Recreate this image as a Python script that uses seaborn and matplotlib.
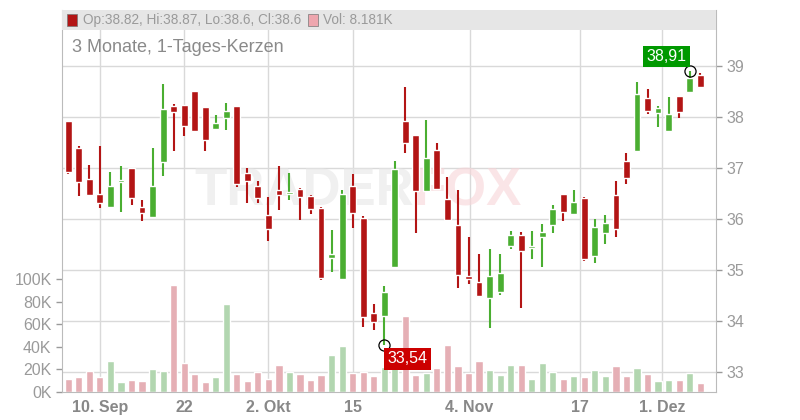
import matplotlib
matplotlib.use("Agg")
import matplotlib.pyplot as plt
import numpy as np
import pandas as pd
import seaborn as sns
from matplotlib.patches import Rectangle

# daily candles, 61 sessions
opens = [37.92, 37.39, 36.78, 36.49, 36.24, 36.73, 37.00, 36.24, 36.05, 37.12,
         38.22, 38.24, 38.51, 38.20, 37.77, 37.99, 38.22, 36.90, 36.65, 36.08,
         36.57, 36.50, 36.59, 36.45, 36.22, 35.24, 34.83, 36.65, 36.02, 34.16,
         34.10, 35.06, 37.93, 37.65, 36.55, 37.35, 36.39, 35.88, 34.89, 34.77,
         34.46, 34.57, 35.48, 35.69, 35.44, 35.65, 35.89, 36.49, 36.10, 36.41,
         35.28, 35.73, 36.47, 37.14, 37.34, 38.37, 38.08, 37.73, 38.41, 38.49,
         38.82]
highs = [37.92, 37.43, 37.06, 37.43, 36.92, 37.04, 37.00, 36.37, 37.39, 38.65,
         38.25, 38.24, 38.51, 38.20, 38.04, 38.27, 38.22, 37.00, 36.75, 36.44,
         37.04, 36.90, 36.61, 36.47, 36.24, 35.78, 36.57, 36.88, 36.06, 34.34,
         34.69, 37.14, 38.59, 37.65, 37.94, 37.50, 36.82, 36.57, 35.65, 35.32,
         35.42, 35.32, 35.77, 35.75, 35.76, 35.91, 36.27, 36.49, 36.57, 36.44,
         36.00, 36.08, 36.75, 37.29, 38.69, 38.55, 38.22, 38.39, 38.41, 38.91,
         38.87]
lows = [36.88, 36.45, 36.47, 36.22, 36.24, 36.14, 36.28, 35.97, 36.05, 36.85,
        37.34, 37.63, 37.73, 37.34, 37.77, 37.75, 36.63, 36.32, 36.32, 35.57,
        36.18, 36.38, 35.99, 36.10, 34.81, 34.97, 34.83, 35.83, 33.89, 33.83,
        33.54, 35.06, 37.30, 35.73, 36.55, 36.57, 35.99, 34.65, 34.73, 34.48,
        33.87, 34.52, 35.42, 34.26, 35.22, 35.06, 35.73, 35.97, 36.10, 35.18,
        35.14, 35.52, 35.65, 36.69, 37.34, 38.06, 37.81, 37.73, 37.99, 38.47,
        38.60]
closes = [36.93, 36.73, 36.47, 36.32, 36.65, 36.76, 36.42, 36.12, 36.65, 38.16,
          38.10, 37.83, 37.73, 37.56, 37.88, 38.12, 36.69, 36.75, 36.42, 35.81,
          36.48, 36.53, 36.44, 36.20, 34.85, 35.31, 36.49, 36.12, 34.08, 33.99,
          34.57, 36.98, 37.50, 36.55, 37.20, 36.59, 35.99, 34.91, 34.83, 34.50,
          34.89, 34.95, 35.68, 35.38, 35.47, 35.75, 36.20, 36.14, 36.33, 35.22,
          35.84, 35.92, 35.81, 36.81, 38.45, 38.12, 38.18, 38.06, 38.10, 38.76,
          38.60]
volumes_k = [11.5, 13.3, 18.6, 13.3, 27.4, 8.8, 10.6, 9.7, 20.4, 18.6,
             94.7, 25.7, 15.9, 8.8, 13.3, 77.9, 15.9, 9.7, 17.7, 11.5,
             23.9, 17.7, 15.9, 10.6, 15.0, 32.7, 40.7, 16.8, 17.7, 14.2,
             22.1, 22.0, 67.3, 15.0, 16.8, 21.2, 41.6, 23.0, 16.8, 27.4,
             19.5, 15.0, 23.9, 23.9, 11.5, 25.7, 17.7, 11.5, 14.2, 13.3,
             19.5, 14.2, 23.0, 14.2, 21.2, 15.9, 9.7, 10.6, 10.6, 16.8,
             8.181]
tick_pos = [3, 11, 19, 27, 38.1, 48.6, 56.4]
tick_labels = ["10. Sep", "22", "2. Okt", "15", "4. Nov", "17", "1. Dez"]

UP, DOWN = "#4aae31", "#b31515"
UP_V, DOWN_V = "#acdcaa", "#eea6ae"
GRID = "#d9d9d9"
TXT = "#9a9a9a"

df = pd.DataFrame({"open": opens, "high": highs, "low": lows,
                   "close": closes, "vol": volumes_k})
df["i"] = np.arange(len(df))
df["dir"] = np.where(df["close"] >= df["open"], "up", "down")

sns.set_style("white")
plt.rcParams["font.family"] = ["Liberation Sans", "DejaVu Sans"]

fig = plt.figure(figsize=(8, 4.2), dpi=100)
ax = fig.add_axes([62 / 800, 28 / 420, 654 / 800, 382 / 420])
ax2 = ax.twinx()
ax.set_zorder(1)
ax2.set_zorder(2)
ax.patch.set_visible(False)
ax2.patch.set_visible(False)

# price grid (drawn on volume axis so it stays behind everything)
pmin, pmax = 32.61, 40.10
vmax = 338
for p in range(33, 40):
    ax.axhline((p - pmin) / (pmax - pmin) * vmax, color=GRID, lw=1, zorder=0)
for t in tick_pos:
    ax.axvline(t, color=GRID, lw=1, zorder=0)

sns.barplot(data=df, x="i", y="vol", hue="dir", palette={"up": UP_V, "down": DOWN_V},
            native_scale=True, width=0.68, ax=ax, legend=False, zorder=1)
ax.set_ylim(0, vmax)
ax.set_xlim(-0.6, 61.5)
ax.set_yticks([0, 20, 40, 60, 80, 100])
ax.set_yticklabels(["0K", "20K", "40K", "60K", "80K", "100K"])
ax.set_xticks(tick_pos)
ax.set_xticklabels(tick_labels)
ax.set_xlabel("")
ax.set_ylabel("")

# watermark
ax2.text(32.8, 36.55, "TRADER", ha="right", va="center",
         fontsize=38, fontweight="bold", color="#e6e6e6", alpha=0.6, zorder=1)
ax2.text(32.8, 36.55, "FOX", ha="left", va="center",
         fontsize=38, fontweight="bold", color="#f8d5d8", alpha=0.6, zorder=1)

# candles
colors = [UP if d == "up" else DOWN for d in df["dir"]]
ax2.vlines(df["i"], df["low"], df["high"], colors=colors, lw=1.5, zorder=2)
body_lo = np.minimum(df["open"], df["close"])
body_h = np.maximum(np.abs(df["close"] - df["open"]), 0.04)
ax2.bar(df["i"], body_h, bottom=body_lo, width=0.65, color=colors, zorder=3)
ax2.set_ylim(pmin, pmax)
ax2.set_yticks(range(33, 40))

for a in (ax, ax2):
    a.tick_params(colors=TXT, labelsize=11.5, length=4, width=1)
    for s in a.spines.values():
        s.set_visible(False)
ax.spines["left"].set_visible(True)
ax.spines["bottom"].set_visible(True)
ax2.spines["right"].set_visible(True)
for s in (ax.spines["left"], ax.spines["bottom"], ax2.spines["right"]):
    s.set_color("#bbbbbb")
ax.tick_params(axis="x", pad=2)
for lbl in ax.get_xticklabels():
    lbl.set_fontweight("bold")
    lbl.set_color("#888888")

# min / max markers
imin = int(np.argmin(lows))
imax = int(np.argmax(highs))
ax2.plot(imin, lows[imin], "o", mfc="none", mec="black", ms=8, mew=0.9, zorder=5)
ax2.plot(imax, highs[imax], "o", mfc="none", mec="black", ms=8, mew=0.9, zorder=5)
ax2.text(imin + 0.3, lows[imin] - 0.28, f"{lows[imin]:.2f}".replace(".", ","),
         color="white", fontsize=11.5, ha="left", va="center", zorder=6,
         bbox=dict(boxstyle="square,pad=0.2", fc="#cc0000", ec="none"))
ax2.text(imax - 0.3, highs[imax] + 0.28, f"{highs[imax]:.2f}".replace(".", ","),
         color="white", fontsize=11.5, ha="right", va="center", zorder=6,
         bbox=dict(boxstyle="square,pad=0.2", fc="#009900", ec="none"))

# header band with legend (on top of grid lines)
ft = fig.transFigure
ax2.add_patch(Rectangle((62 / 800, 390 / 420), 654 / 800, 20 / 420, transform=ft,
                        fc="#e6e6e6", ec="none", zorder=8, clip_on=False))
ax2.add_patch(Rectangle((67 / 800, 394 / 420), 10 / 800, 12 / 420, transform=ft,
                        fc=DOWN, ec="#777777", lw=0.5, zorder=9, clip_on=False))
ax2.text(83 / 800, 400 / 420, "Op:38.82, Hi:38.87, Lo:38.6, Cl:38.6", transform=ft,
         color=TXT, fontsize=9.8, va="center", zorder=9)
ax2.add_patch(Rectangle((308 / 800, 394 / 420), 10 / 800, 12 / 420, transform=ft,
                        fc=DOWN_V, ec="#777777", lw=0.5, zorder=9, clip_on=False))
ax2.text(323 / 800, 400 / 420, "Vol: 8.181K", transform=ft, color=TXT,
         fontsize=9.8, va="center", zorder=9)
fig.text(72 / 800, 373 / 420, "3 Monate, 1-Tages-Kerzen", color="#8a8a8a",
         fontsize=13, va="center")

fig.savefig("out.png", dpi=100)
